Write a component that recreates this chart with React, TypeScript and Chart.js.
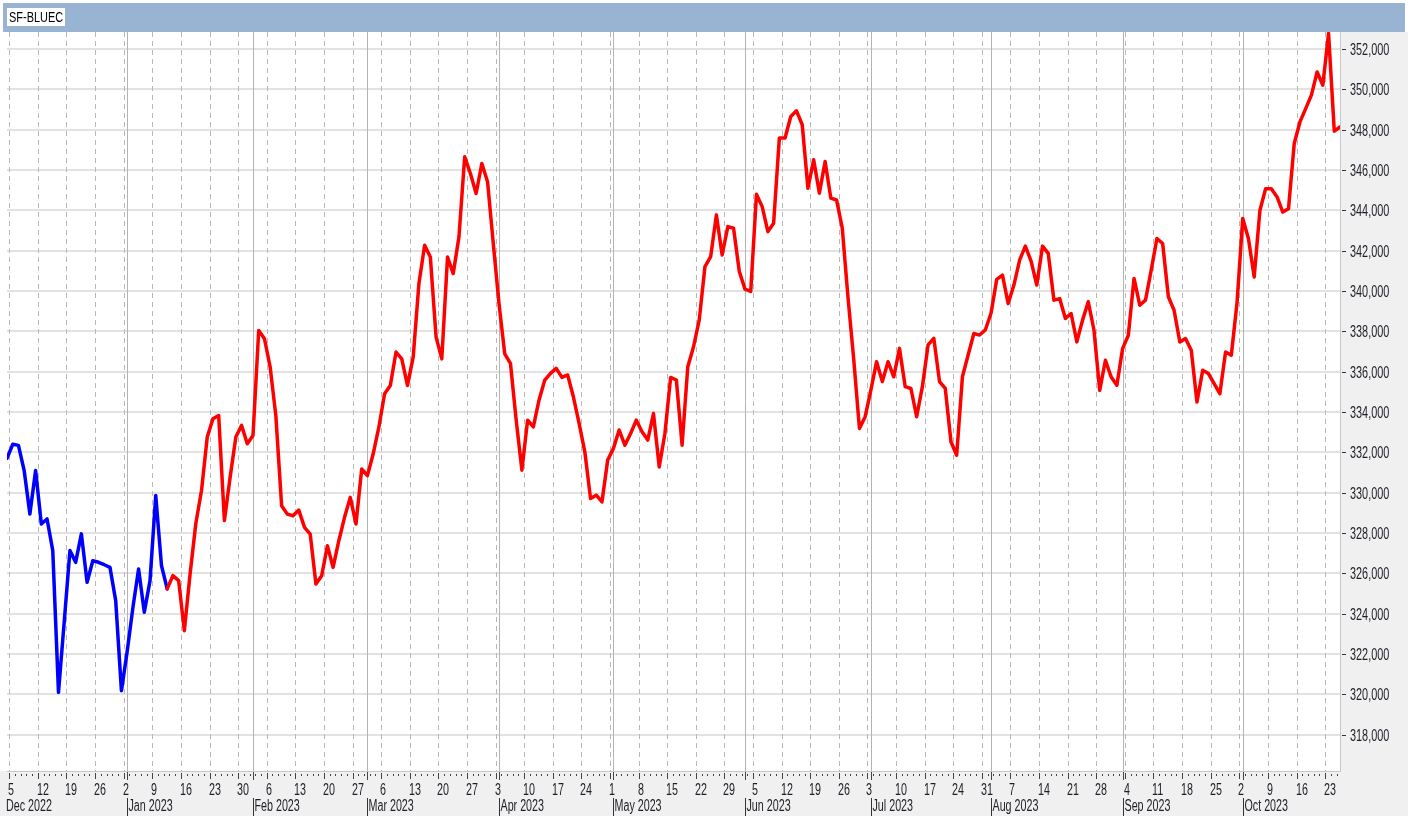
import React, { useEffect, useRef } from "react";
import { Chart, registerables } from "chart.js";

Chart.register(...registerables);

const seriesName = "SF-BLUEC";
// first trading day drawn (Fri 2 Dec 2022); one value per weekday after it
const startDate = [2022, 11, 2];
const indexValues = [
  331700, 332400, 332350, 331100, 328950, 331100, 328450, 328700, 327130, 320100,
  323600, 327130, 326550, 327960, 325560, 326630, 326550, 326430, 326300, 324650,
  320180, 322120, 324290, 326220, 324070, 325640, 329860, 326390, 325230, 325890,
  325640, 323160, 325970, 328460, 330110, 332760, 333670, 333830, 328620, 330770,
  332760, 333340, 332430, 332840, 338050, 337640, 336230, 333800, 329360, 328940,
  328860, 329140, 328280, 327950, 325470, 325880, 327370, 326300, 327620, 328780,
  329770, 328450, 331180, 330850, 331920, 333250, 334910, 335320, 336980, 336640,
  335320, 336730, 340370, 342270, 341690, 337720, 336640, 341690, 340870, 342690,
  346660, 345830, 344840, 346330, 345420, 342360, 339380, 336890, 336420, 333600,
  331120, 333600, 333270, 334600, 335590, 335920, 336170, 335720, 335840, 334760,
  333440, 332030, 329710, 329880, 329550, 331620, 332200, 333110, 332360, 332940,
  333600, 333020, 332610, 333930, 331280, 332940, 335720, 335590, 332360, 336250,
  337240, 338570, 341220, 341710, 343780, 341790, 343200, 343120, 340970, 340100,
  339980, 344800, 344190, 342950, 343370, 347590, 347590, 348660, 348940, 348250,
  345100, 346510, 344860, 346430, 344610, 344520, 343120, 339690, 336630, 333190,
  333770, 335090, 336500, 335510, 336500, 335750, 337160, 335260, 335170, 333770,
  335260, 337330, 337660, 335510, 335170, 332530, 331860, 335750, 336830, 337900,
  337820, 338070, 338900, 340580, 340790, 339380, 340300, 341540, 342230, 341490,
  340300, 342230, 341870, 339550, 339630, 338640, 338890, 337480, 338560, 339470,
  338060, 335080, 336570, 335740, 335330, 337150, 337810, 340630, 339300, 339550,
  341040, 342610, 342360, 339720, 339050, 337480, 337650, 337070, 334500, 336070,
  335910, 335410, 334910, 336980, 336820, 339420, 343600, 342600, 340700, 344000,
  345080, 345080, 344670, 343920, 344090, 347320, 348390, 349050, 349720, 350870,
  350210, 352780, 347930, 348140,
];
// points before this trading-day index are drawn in blue, the rest in red
const blueUntilIndex = 28;
const yTickValues = [
  318000, 320000, 322000, 324000, 326000, 328000, 330000, 332000, 334000,
  336000, 338000, 340000, 342000, 344000, 346000, 348000, 350000, 352000,
];
const yMin = 316200;
const yMax = 352850;
const monthNames = ["Jan", "Feb", "Mar", "Apr", "May", "Jun", "Jul", "Aug", "Sep", "Oct", "Nov", "Dec"];

function tradingDays(n: number): Date[] {
  const out: Date[] = [];
  const d = new Date(startDate[0], startDate[1], startDate[2]);
  while (out.length < n) {
    const wd = d.getDay();
    if (wd !== 0 && wd !== 6) out.push(new Date(d));
    d.setDate(d.getDate() + 1);
  }
  return out;
}

const FONT = '"Liberation Sans", Arial, sans-serif';

function drawText(ctx: CanvasRenderingContext2D, text: string, x: number, y: number, size: number, sx: number, color = "#1e1e28") {
  ctx.save();
  ctx.translate(x, y);
  ctx.scale(sx, 1);
  ctx.font = `${size}px ${FONT}`;
  ctx.fillStyle = color;
  ctx.textAlign = "left";
  ctx.textBaseline = "middle";
  ctx.fillText(text, 0, 0);
  ctx.restore();
}

export default function App() {
  const ref = useRef<HTMLCanvasElement | null>(null);

  useEffect(() => {
    document.body.style.margin = "0";
    const canvas = ref.current;
    if (!canvas) return;
    const dates = tradingDays(indexValues.length);
    const mondays: number[] = [];
    const monthStarts: number[] = [];
    dates.forEach((d, k) => {
      if (d.getDay() === 1) mondays.push(k);
      if (k > 0 && d.getMonth() !== dates[k - 1].getMonth()) monthStarts.push(k);
    });
    const points = indexValues.map((v, k) => ({ x: k, y: v }));
    const weekOffset = 0.6;

    const decor = {
      id: "decor",
      beforeDraw(chart: any) {
        const { ctx, chartArea: ca, width, height } = chart;
        ctx.save();
        ctx.fillStyle = "#ffffff";
        ctx.fillRect(0, 0, width, height);
        ctx.fillStyle = "#f0f0f0";
        ctx.fillRect(ca.right, ca.top, width - ca.right, height - ca.top);
        ctx.fillRect(0, ca.bottom, width, height - ca.bottom);
        ctx.fillStyle = "#98b4d2";
        ctx.fillRect(3, 3, width - 6, ca.top - 3);
        ctx.fillStyle = "#ffffff";
        ctx.fillRect(7, 8, 58, 18);
        ctx.restore();
        drawText(ctx, seriesName, 9, 17.5, 15, 0.73, "#000000");
      },
      beforeDatasetsDraw(chart: any) {
        const { ctx, chartArea: ca } = chart;
        const xs = chart.scales.x;
        ctx.save();
        ctx.beginPath();
        ctx.rect(ca.left, ca.top, ca.width, ca.height);
        ctx.clip();
        ctx.lineWidth = 1;
        ctx.strokeStyle = "#b8b8b8";
        ctx.setLineDash([5, 4]);
        mondays.forEach((k) => {
          const x = Math.round(xs.getPixelForValue(k - weekOffset)) + 0.5;
          ctx.beginPath();
          ctx.moveTo(x, ca.top);
          ctx.lineTo(x, ca.bottom);
          ctx.stroke();
        });
        ctx.setLineDash([]);
        ctx.strokeStyle = "#b4b4b4";
        monthStarts.forEach((k) => {
          const x = Math.round(xs.getPixelForValue(k)) + 0.5;
          ctx.beginPath();
          ctx.moveTo(x, ca.top);
          ctx.lineTo(x, ca.bottom);
          ctx.stroke();
        });
        ctx.restore();
      },
      afterDraw(chart: any) {
        const { ctx, chartArea: ca, height } = chart;
        const xs = chart.scales.x;
        const ys = chart.scales.y;
        ctx.save();
        // plot frame
        ctx.strokeStyle = "#c8c8c8";
        ctx.lineWidth = 1;
        ctx.beginPath();
        ctx.moveTo(ca.left, ca.bottom + 0.5);
        ctx.lineTo(ca.right + 0.5, ca.bottom + 0.5);
        ctx.lineTo(ca.right + 0.5, ca.top);
        ctx.stroke();
        // y axis ticks + labels
        ctx.strokeStyle = "#333333";
        yTickValues.forEach((v) => {
          const y = Math.round(ys.getPixelForValue(v)) + 0.5;
          ctx.beginPath();
          ctx.moveTo(ca.right + 2, y);
          ctx.lineTo(ca.right + 6, y);
          ctx.stroke();
          drawText(ctx, v.toLocaleString("en-US"), ca.right + 10, y + 0.5, 17, 0.64);
        });
        // x axis day ticks
        ctx.strokeStyle = "#444444";
        dates.forEach((d, k) => {
          const x = Math.round(xs.getPixelForValue(k - weekOffset)) + 0.5;
          if (x < ca.left || x > ca.right) return;
          const isMon = d.getDay() === 1;
          ctx.beginPath();
          ctx.moveTo(x, ca.bottom + (isMon ? 2 : 3));
          ctx.lineTo(x, ca.bottom + (isMon ? 8 : 5));
          ctx.stroke();
        });
        monthStarts.forEach((k) => {
          const x = Math.round(xs.getPixelForValue(k)) + 0.5;
          ctx.beginPath();
          ctx.moveTo(x, ca.bottom + 1);
          ctx.lineTo(x, ca.bottom + 9);
          ctx.stroke();
        });
        mondays.forEach((k) => {
          const x = xs.getPixelForValue(k - weekOffset);
          drawText(ctx, String(dates[k].getDate()), Math.round(x) - 1, ca.bottom + 20, 16, 0.67);
        });
        // month labels
        const first = dates[0];
        drawText(ctx, `${monthNames[first.getMonth()]} ${first.getFullYear()}`, ca.left - 1, ca.bottom + 36, 16, 0.67);
        ctx.strokeStyle = "#333333";
        monthStarts.forEach((k) => {
          const x = Math.round(xs.getPixelForValue(k)) + 0.5;
          ctx.beginPath();
          ctx.moveTo(x, ca.bottom + 27);
          ctx.lineTo(x, height);
          ctx.stroke();
          const d = dates[k];
          drawText(ctx, `${monthNames[d.getMonth()]} ${d.getFullYear()}`, x + 1, ca.bottom + 36, 16, 0.67);
        });
        ctx.restore();
      },
    };

    const chart = new Chart(canvas, {
      type: "line",
      data: {
        datasets: [
          {
            label: seriesName,
            data: points,
            borderColor: "#ff0000",
            borderWidth: 3.5,
            pointRadius: 0,
            tension: 0,
            borderJoinStyle: "round",
            borderCapStyle: "round",
            segment: {
              borderColor: (c: any) => (c.p0.parsed.x < blueUntilIndex ? "#0000ff" : "#ff0000"),
            },
          },
        ],
      },
      options: {
        animation: false,
        responsive: false,
        devicePixelRatio: 1,
        layout: { padding: { left: 7, top: 32, right: 0, bottom: 45 } },
        plugins: { legend: { display: false }, tooltip: { enabled: false }, title: { display: false } },
        scales: {
          x: {
            type: "linear",
            min: 0,
            max: indexValues.length - 1,
            display: false,
          },
          y: {
            position: "right",
            min: yMin,
            max: yMax,
            afterBuildTicks: (s: any) => {
              s.ticks = yTickValues.map((v) => ({ value: v }));
            },
            afterFit: (s: any) => {
              s.width = 68;
            },
            ticks: { display: false },
            grid: { color: "#e2e2e2", lineWidth: 2, drawTicks: false },
            border: { display: false },
          },
        },
      },
      plugins: [decor],
    } as any);
    return () => chart.destroy();
  }, []);

  return <canvas ref={ref} width={1408} height={816} style={{ display: "block" }} />;
}
